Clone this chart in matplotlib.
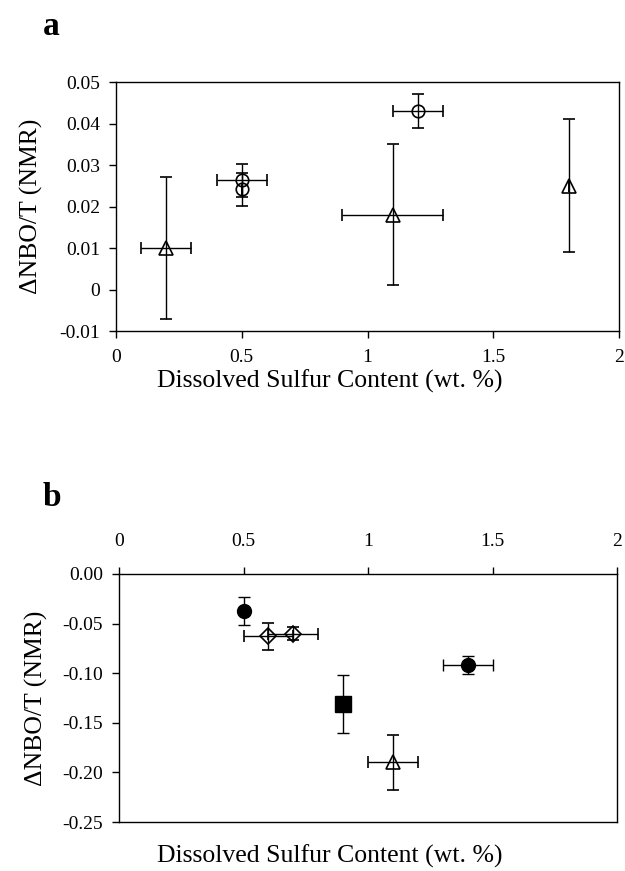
import matplotlib
matplotlib.use("Agg")
import matplotlib.pyplot as plt

plt.rcParams["font.family"] = ["Liberation Serif", "DejaVu Serif"]

# Panel a: change in NBO/T against dissolved sulfur (open symbols)
a_tri_x = [0.2, 1.1, 1.8]
a_tri_y = [0.010, 0.018, 0.025]
a_tri_yerr = [[0.017, 0.017, 0.016], [0.017, 0.017, 0.016]]
a_tri_xerr = [0.1, 0.2, 0.0]

a_circ_x = [0.5, 0.5, 1.2]
a_circ_y = [0.0263, 0.0241, 0.043]
a_circ_yerr = [0.004, 0.004, 0.004]
a_circ_xerr = [0.1, 0.0, 0.1]

a_yticks = [0.05, 0.04, 0.03, 0.02, 0.01, 0.0, -0.01]
a_ytick_labels = ["0.05", "0.04", "0.03", "0.02", "0.01", "0", "-0.01"]

# Panel b: mixed symbol groups
b_fcirc_x = [0.5, 1.4]
b_fcirc_y = [-0.037, -0.092]
b_fcirc_yerr = [0.014, 0.009]
b_fcirc_xerr = [0.0, 0.1]

b_diam_x = [0.6, 0.7]
b_diam_y = [-0.063, -0.060]
b_diam_yerr = [0.014, 0.007]
b_diam_xerr = [0.1, 0.1]

b_sq_x = [0.9]
b_sq_y = [-0.131]
b_sq_yerr = [0.029]

b_tri_x = [1.1]
b_tri_y = [-0.190]
b_tri_yerr = [0.028]
b_tri_xerr = [0.1]

b_yticks = [0.0, -0.05, -0.10, -0.15, -0.20, -0.25]
b_ytick_labels = ["0.00", "-0.05", "-0.10", "-0.15", "-0.20", "-0.25"]

x_ticks = [0, 0.5, 1, 1.5, 2]
x_tick_labels = ["0", "0.5", "1", "1.5", "2"]

XLABEL = "Dissolved Sulfur Content (wt. %)"
YLABEL = "\u0394NBO/T (NMR)"

err_kw = dict(ecolor="black", elinewidth=1.0, capsize=4, capthick=1.0,
              linestyle="none", color="black")

W, H = 625, 871
fig = plt.figure(figsize=(W / 100, H / 100), dpi=100)
ax_a = fig.add_axes([116 / W, 1 - 331 / H, 503 / W, 249 / H])
ax_b = fig.add_axes([119 / W, 1 - 822 / H, 498 / W, 248 / H])


def style_axes(ax):
    for sp in ax.spines.values():
        sp.set_linewidth(1.0)
    ax.tick_params(direction="out", length=5, width=1.0, labelsize=14, pad=6.5)
    ax.set_xlim(0, 2)
    ax.set_xticks(x_ticks)
    ax.set_xticklabels(x_tick_labels)


# panel a
style_axes(ax_a)
ax_a.errorbar(a_tri_x, a_tri_y, yerr=a_tri_yerr, xerr=a_tri_xerr, marker="^",
              markersize=10.5, mfc="none", mec="black", mew=1.2, **err_kw)
ax_a.errorbar(a_circ_x, a_circ_y, yerr=a_circ_yerr, xerr=a_circ_xerr, marker="o",
              markersize=9, mfc="none", mec="black", mew=1.2, **err_kw)
ax_a.set_ylim(-0.01, 0.05)
ax_a.set_yticks(a_yticks)
ax_a.set_yticklabels(a_ytick_labels)
ax_a.tick_params(axis="x", pad=8)
ax_a.set_ylabel(YLABEL, fontsize=18.5, labelpad=12)

# panel b
style_axes(ax_b)
ax_b.xaxis.tick_top()
ax_b.tick_params(axis="x", pad=12)
ax_b.errorbar(b_fcirc_x, b_fcirc_y, yerr=b_fcirc_yerr, xerr=b_fcirc_xerr, marker="o",
              markersize=10, mfc="black", mec="black", **err_kw)
ax_b.errorbar(b_diam_x, b_diam_y, yerr=b_diam_yerr, xerr=b_diam_xerr, marker="D",
              markersize=8, mfc="none", mec="black", mew=1.2, **err_kw)
ax_b.errorbar(b_sq_x, b_sq_y, yerr=b_sq_yerr, marker="s",
              markersize=11, mfc="black", mec="black", **err_kw)
ax_b.errorbar(b_tri_x, b_tri_y, yerr=b_tri_yerr, xerr=b_tri_xerr, marker="^",
              markersize=10.5, mfc="none", mec="black", mew=1.2, **err_kw)
ax_b.set_ylim(-0.25, 0.0)
ax_b.set_yticks(b_yticks)
ax_b.set_yticklabels(b_ytick_labels)
ax_b.set_ylabel(YLABEL, fontsize=18.5, labelpad=10)

# axis titles sit a little left of the plot centre
fig.text(330 / W, 1 - 381 / H, XLABEL, fontsize=18.5, ha="center", va="center")
fig.text(330 / W, 1 - 856 / H, XLABEL, fontsize=18.5, ha="center", va="center")

fig.text(43 / W, 1 - 35 / H, "a", fontsize=24, fontweight="bold")
fig.text(43 / W, 1 - 506 / H, "b", fontsize=24, fontweight="bold")

fig.savefig("out.png", dpi=100)
